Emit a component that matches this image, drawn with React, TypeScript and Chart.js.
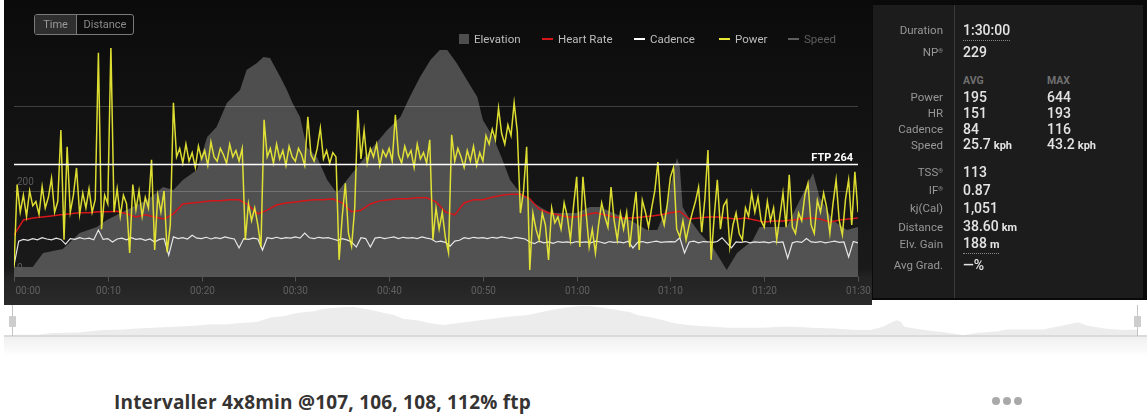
import React, { useEffect, useRef } from "react";
import { Chart, registerables } from "chart.js";
Chart.register(...registerables);

// ---------- data ----------
const tickMinutes = [0, 10, 20, 30, 40, 50, 60, 70, 80, 90];
const tickLabels = ["00:00", "00:10", "00:20", "00:30", "00:40", "00:50", "01:00", "01:10", "01:20", "01:30"];

const POWER_STEP_MIN = 1 / 3; // 20 s samples
const power = [
  20, 215, 150, 190, 140, 200, 165, 175, 145, 210, 160, 185, 230, 150, 175,
  343, 85, 304, 150, 190, 254, 145, 195, 160, 205, 150, 180, 525, 110, 190,
  170, 540, 150, 205, 140, 190, 170, 54, 215, 155, 200, 140, 185, 160, 273,
  61, 190, 150, 200, 56, 120, 407, 280, 300, 265, 310, 270, 290, 255, 305,
  275, 295, 260, 315, 280, 270, 300, 285, 265, 310, 280, 295, 270, 300, 85,
  170, 130, 160, 120, 68, 367, 280, 300, 265, 310, 275, 295, 260, 305, 280,
  270, 300, 285, 260, 374, 285, 270, 300, 348, 275, 295, 265, 290, 280, 38,
  140, 218, 100, 70, 160, 390, 275, 343, 265, 300, 280, 310, 260, 295, 280,
  300, 270, 379, 285, 265, 305, 280, 295, 255, 310, 275, 290, 265, 320, 85,
  160, 110, 150, 90, 55, 332, 270, 300, 280, 255, 295, 270, 305, 260, 290,
  270, 330, 310, 345, 320, 395, 335, 310, 355, 330, 407, 340, 148, 200, 304,
  14, 148, 110, 85, 148, 120, 38, 160, 125, 139, 110, 172, 140, 85, 165,
  233, 68, 233, 150, 68, 110, 54, 120, 172, 140, 115, 209, 130, 85, 148,
  110, 150, 68, 140, 198, 61, 178, 150, 115, 160, 200, 268, 148, 120, 170,
  233, 256, 110, 92, 130, 85, 120, 149, 175, 209, 103, 180, 296, 38, 140,
  226, 110, 165, 178, 68, 120, 148, 100, 85, 160, 140, 195, 150, 185, 130,
  115, 175, 130, 160, 85, 140, 195, 115, 238, 115, 100, 148, 130, 190, 218,
  120, 100, 178, 150, 195, 160, 100, 170, 226, 130, 97, 180, 226, 120, 245, 150,
];

const CADENCE_STEP_MIN = 0.5;
const cadence = [
  25, 82, 86, 84, 88, 85, 90, 87, 85, 89,
  86, 75, 88, 86, 90, 87, 89, 85, 108, 86,
  88, 80, 87, 89, 85, 90, 86, 88, 84, 87,
  80, 86, 88, 49, 92, 88, 90, 87, 96, 89,
  88, 91, 87, 90, 88, 92, 89, 87, 66, 88,
  86, 89, 87, 61, 90, 88, 91, 88, 90, 89,
  92, 89, 101, 90, 88, 91, 89, 90, 87, 84,
  88, 85, 80, 68, 90, 88, 68, 89, 91, 88,
  90, 92, 88, 91, 89, 90, 88, 92, 89, 87,
  80, 82, 79, 70, 82, 84, 90, 88, 91, 89,
  90, 88, 91, 89, 92, 90, 88, 91, 89, 87,
  80, 76, 82, 78, 80, 77, 81, 79, 80, 78,
  81, 79, 80, 78, 82, 80, 77, 81, 79, 80,
  78, 82, 66, 79, 81, 78, 80, 82, 79, 80,
  81, 80, 90, 54, 80, 82, 78, 81, 80, 79,
  81, 90, 78, 66, 80, 79, 81, 78, 80, 79,
  80, 78, 81, 79, 80, 42, 78, 81, 79, 88,
  80, 79, 81, 78, 80, 82, 79, 80, 45, 81, 78,
];

const HR_STEP_MIN = 1;
const heartRate = [
  109, 138, 142, 144, 146, 148, 150, 152, 152, 154,
  154, 155, 150, 144, 148, 144, 140, 150, 169, 171,
  173, 175, 175, 177, 177, 167, 150, 157, 167, 171,
  173, 175, 177, 177, 179, 171, 154, 157, 169, 175,
  177, 179, 179, 181, 181, 173, 154, 148, 171, 177,
  177, 182, 186, 188, 188, 179, 159, 152, 148, 144,
  144, 148, 152, 148, 144, 142, 142, 144, 146, 148,
  152, 155, 140, 142, 144, 144, 142, 140, 142, 138,
  134, 136, 136, 138, 140, 142, 140, 134, 138, 140, 142,
];

const elevationMinutes = [
  0, 2.0, 3.1, 5.2, 7.0, 8.85, 9.9, 12.0, 14.2, 15.9, 17.0, 18.0, 19.5, 20.6, 21.6, 22.7,
  24.1, 24.8, 25.9, 26.6, 27.3, 28.4, 29.1, 29.7, 30.5, 31.2, 32.3, 33.4, 34.4, 35.5, 36.6,
  38.0, 39.8, 41.2, 42.2, 43.3, 44.4, 45.4, 46.2, 47.2, 48.3, 49.4, 50.0, 51.1, 52.1, 52.9,
  54.0, 55.0, 56.1, 57.2, 60.0, 61.4, 62.5, 63.9, 65.7, 67.5, 68.6, 69.6, 70.3, 70.7, 71.0,
  71.3, 72.1, 73.1, 74.5, 76.0, 77.1, 78.8, 79.5, 82.4, 83.8, 85.2, 85.9, 87.3, 88.8, 90.0,
];
const elevation = [
  9, 9, 23, 27, 43, 49, 56, 66, 76, 89, 86, 96, 106, 139, 149, 173,
  186, 206, 213, 219, 218, 199, 186, 173, 159, 129, 119, 96, 83, 96, 109,
  126, 146, 159, 179, 199, 216, 226, 226, 213, 196, 179, 156, 139, 116, 96,
  83, 76, 69, 63, 63, 69, 69, 63, 56, 46, 46, 69, 103, 118, 109,
  69, 56, 43, 29, 6, 23, 36, 49, 49, 76, 103, 79, 56, 46, 49,
];

const FTP = 264;
const powerGridValues = [200, 400];
const powerAxisLabels = [0, 200];

const legendNames = ["Elevation", "Heart Rate", "Cadence", "Power", "Speed"];
const legendColors = ["#4e4e4e", "#d4161a", "#ffffff", "#e8e834", "#5e5e5e"];

const summaryLabels = ["Duration", "NP"];
const summaryValues = ["1:30:00", "229"];
const metricLabels = ["Power", "HR", "Cadence", "Speed"];
const metricAvg = ["195", "151", "84", "25.7"];
const metricMax = ["644", "193", "116", "43.2"];
const metricUnits = ["", "", "", "kph"];
const extraLabels = ["TSS", "IF", "kj(Cal)", "Distance", "Elv. Gain", "Avg Grad."];
const extraValues = ["113", "0.87", "1,051", "38.60", "188", "\u2014%"];
const extraUnits = ["", "", "", "km", "m", ""];

const titleText = "Intervaller 4x8min @107, 106, 108, 112% ftp";

// ---------- layout ----------
const FONT = "Roboto, 'Open Sans', sans-serif";
const legendMarkX = [459, 542, 634, 719, 788];
const legendTextX = [474, 558, 650, 735, 804];
const summaryY = [30, 52];
const headerY = 81;
const metricY = [97, 113, 129, 145];
const extraY = [172, 190, 208, 227, 244, 265];
const supMarks = { NP: true, TSS: true, IF: true } as Record<string, boolean>;

const overlayPlugin = {
  id: "overlay",
  afterDatasetDraw(chart: any, args: any) {
    if (args.index !== 0) return;
    const { ctx, chartArea, scales } = chart;
    const y = scales.yP;
    ctx.save();
    ctx.strokeStyle = "rgba(255,255,255,0.2)";
    ctx.lineWidth = 1;
    powerGridValues.forEach((v) => {
      const py = Math.round(y.getPixelForValue(v)) + 0.5;
      ctx.beginPath();
      ctx.moveTo(chartArea.left, py);
      ctx.lineTo(chartArea.right, py);
      ctx.stroke();
    });
    ctx.fillStyle = "#5c5c5c";
    ctx.font = "10px " + FONT;
    ctx.textBaseline = "middle";
    ctx.textAlign = "left";
    powerAxisLabels.forEach((v) => {
      ctx.fillText(String(v), chartArea.left + 3, y.getPixelForValue(v) - 8);
    });
    ctx.restore();
  },
  afterDatasetsDraw(chart: any) {
    const { ctx, chartArea, scales } = chart;
    const y = scales.yP;
    const x = scales.x;
    ctx.save();
    // FTP line
    const fy = Math.round(y.getPixelForValue(FTP)) + 0.5;
    ctx.strokeStyle = "#ffffff";
    ctx.lineWidth = 1.5;
    ctx.beginPath();
    ctx.moveTo(chartArea.left, fy);
    ctx.lineTo(chartArea.right, fy);
    ctx.stroke();
    ctx.fillStyle = "#ffffff";
    ctx.font = "bold 11px " + FONT;
    ctx.textAlign = "right";
    ctx.textBaseline = "alphabetic";
    ctx.fillText("FTP " + FTP, chartArea.right - 5, fy - 3.5);
    // x axis
    const ay = chartArea.bottom + 0.5;
    ctx.strokeStyle = "#555555";
    ctx.lineWidth = 1;
    ctx.beginPath();
    ctx.moveTo(chartArea.left, ay);
    ctx.lineTo(chartArea.right, ay);
    ctx.stroke();
    ctx.font = "10px " + FONT;
    ctx.fillStyle = "#616161";
    ctx.textBaseline = "middle";
    tickMinutes.forEach((m, i) => {
      const px = Math.round(x.getPixelForValue(m)) + 0.5;
      ctx.beginPath();
      ctx.moveTo(px, ay);
      ctx.lineTo(px, ay + 5);
      ctx.stroke();
      ctx.textAlign = i === 0 ? "left" : "center";
      ctx.fillText(tickLabels[i], i === 0 ? px + 1 : px, chartArea.bottom + 15);
    });
    ctx.restore();
  },
};

export default function App() {
  const mainRef = useRef<HTMLCanvasElement>(null);
  const ovRef = useRef<HTMLCanvasElement>(null);

  useEffect(() => {
    document.body.style.margin = "0";
    const elevPts = elevation.map((v, i) => ({ x: elevationMinutes[i], y: v }));
    const powerPts = power.map((v, i) => ({ x: i * POWER_STEP_MIN, y: v }));
    const cadPts = cadence.map((v, i) => ({ x: i * CADENCE_STEP_MIN, y: v }));
    const hrPts = heartRate.map((v, i) => ({ x: i * HR_STEP_MIN, y: v }));

    const main = new Chart(mainRef.current as HTMLCanvasElement, {
      type: "line",
      data: {
        datasets: [
          {
            label: "Elevation",
            data: elevPts,
            yAxisID: "yE",
            borderColor: "transparent",
            borderWidth: 0,
            backgroundColor: "rgba(120,120,120,0.6)",
            fill: "start",
            pointRadius: 0,
            order: 4,
          },
          {
            label: "Heart Rate",
            data: hrPts,
            yAxisID: "yH",
            borderColor: "#d4161a",
            borderWidth: 1.5,
            pointRadius: 0,
            fill: false,
            order: 3,
          },
          {
            label: "Cadence",
            data: cadPts,
            yAxisID: "yP",
            borderColor: "#e6e6e6",
            borderWidth: 1.2,
            pointRadius: 0,
            fill: false,
            order: 2,
          },
          {
            label: "Power",
            data: powerPts,
            yAxisID: "yP",
            borderColor: "rgba(238,238,52,0.92)",
            borderWidth: 1.5,
            pointRadius: 0,
            fill: false,
            order: 1,
          },
        ] as any,
      },
      options: {
        responsive: false,
        animation: false,
        events: [],
        layout: { padding: { left: 10, right: 14, top: 48, bottom: 27 } },
        plugins: { legend: { display: false }, tooltip: { enabled: false } },
        scales: {
          x: { type: "linear", min: 0, max: 90, display: false },
          yP: { type: "linear", min: 0, max: 536, display: false },
          yE: { type: "linear", min: 0, max: 228, display: false },
          yH: { type: "linear", min: 30, max: 470, display: false },
        },
      } as any,
      plugins: [overlayPlugin as any],
    });

    const ov = new Chart(ovRef.current as HTMLCanvasElement, {
      type: "line",
      data: {
        datasets: [
          {
            label: "Elevation",
            data: elevPts,
            borderColor: "transparent",
            borderWidth: 0,
            backgroundColor: "#ececec",
            fill: "start",
            pointRadius: 0,
          },
        ] as any,
      },
      options: {
        responsive: false,
        animation: false,
        events: [],
        layout: { padding: 0 },
        plugins: { legend: { display: false }, tooltip: { enabled: false } },
        scales: {
          x: { type: "linear", min: 0, max: 90, display: false },
          y: { type: "linear", min: 0, max: 271, display: false },
        },
      } as any,
    });

    return () => {
      main.destroy();
      ov.destroy();
    };
  }, []);

  const labelStyle = (y: number): React.CSSProperties => ({
    position: "absolute",
    left: 843,
    width: 100,
    top: y,
    transform: "translateY(-50%)",
    textAlign: "right",
    color: "#979797",
    fontSize: 11.5,
    lineHeight: "14px",
    whiteSpace: "nowrap",
  });
  const valueStyle = (x: number, y: number): React.CSSProperties => ({
    position: "absolute",
    left: x,
    top: y,
    transform: "translateY(-50%)",
    color: "#e4e4e4",
    fontSize: 14,
    fontWeight: 500,
    lineHeight: "16px",
    whiteSpace: "nowrap",
  });
  const unitStyle: React.CSSProperties = { fontSize: 11, fontWeight: 700, marginLeft: 3 };
  const sup = (name: string) =>
    supMarks[name] ? <sup style={{ fontSize: 6, verticalAlign: "top", position: "relative", top: -1 }}>®</sup> : null;

  return (
    <div style={{ position: "relative", width: 1147, height: 420, background: "#ffffff", overflow: "hidden", fontFamily: FONT }}>
      {/* dark band */}
      <div style={{ position: "absolute", left: 4, top: 0, width: 1143, height: 300, background: "#0a0a0a" }} />
      <div
        style={{
          position: "absolute",
          left: 4,
          top: 0,
          width: 868,
          height: 305,
          background: "linear-gradient(180deg, #0b0b0b 0%, #121212 40%, #1a1a1a 88%, #232323 91%, #2a2a2a 100%)",
        }}
      >
        <canvas ref={mainRef} width={868} height={303} style={{ display: "block" }} />
      </div>

      {/* Time / Distance toggle */}
      <div
        style={{
          position: "absolute",
          left: 34,
          top: 14,
          width: 98,
          height: 19,
          border: "1px solid #7a7a7a",
          borderRadius: 3,
          display: "flex",
          fontSize: 11,
          lineHeight: "19px",
          overflow: "hidden",
        }}
      >
        <div style={{ width: 41, textAlign: "center", background: "#2e2e2e", color: "#9a9a9a", borderRight: "1px solid #7a7a7a" }}>Time</div>
        <div style={{ flex: 1, textAlign: "center", color: "#8a8a8a" }}>Distance</div>
      </div>

      {/* legend */}
      {legendNames.map((name, i) => (
        <React.Fragment key={name}>
          <div
            style={{
              position: "absolute",
              left: legendMarkX[i],
              top: i === 0 ? 34 : 38,
              width: i === 0 ? 10 : 11,
              height: i === 0 ? 10 : 2,
              background: legendColors[i],
            }}
          />
          <div
            style={{
              position: "absolute",
              left: legendTextX[i],
              top: 39,
              transform: "translateY(-50%)",
              fontSize: 11.5,
              lineHeight: "14px",
              color: i === 4 ? "#5e5e5e" : "#bdbdbd",
              whiteSpace: "nowrap",
            }}
          >
            {name}
          </div>
        </React.Fragment>
      ))}

      {/* stats panel */}
      <div style={{ position: "absolute", left: 873, top: 5, width: 270, height: 293, background: "#1c1c1c" }} />
      <div style={{ position: "absolute", left: 954, top: 5, width: 1, height: 293, background: "#3a3a3a" }} />
      {summaryLabels.map((l, i) => (
        <React.Fragment key={l}>
          <div style={labelStyle(summaryY[i])}>
            {l}
            {sup(l)}
          </div>
          <div style={valueStyle(963, summaryY[i])}>
            <span style={i === 0 ? { borderBottom: "1px dotted #8a8a8a", paddingBottom: 2 } : {}}>{summaryValues[i]}</span>
          </div>
        </React.Fragment>
      ))}
      <div style={{ ...valueStyle(963, headerY), fontSize: 10.5, color: "#707070", fontWeight: 700 }}>AVG</div>
      <div style={{ ...valueStyle(1047, headerY), fontSize: 10.5, color: "#707070", fontWeight: 700 }}>MAX</div>
      {metricLabels.map((l, i) => (
        <React.Fragment key={l}>
          <div style={labelStyle(metricY[i])}>{l}</div>
          <div style={valueStyle(963, metricY[i])}>
            {metricAvg[i]}
            {metricUnits[i] ? <span style={unitStyle}>{metricUnits[i]}</span> : null}
          </div>
          <div style={valueStyle(1047, metricY[i])}>
            {metricMax[i]}
            {metricUnits[i] ? <span style={unitStyle}>{metricUnits[i]}</span> : null}
          </div>
        </React.Fragment>
      ))}
      {extraLabels.map((l, i) => (
        <React.Fragment key={l}>
          <div style={labelStyle(extraY[i])}>
            {l}
            {sup(l)}
          </div>
          <div style={valueStyle(963, extraY[i])}>
            <span style={l === "Elv. Gain" ? { borderBottom: "1px dotted #8a8a8a", paddingBottom: 2 } : {}}>
              {extraValues[i]}
              {extraUnits[i] ? <span style={unitStyle}>{extraUnits[i]}</span> : null}
            </span>
          </div>
        </React.Fragment>
      ))}

      {/* overview strip */}
      <canvas ref={ovRef} width={1125} height={36} style={{ position: "absolute", left: 13, top: 300, display: "block" }} />
      <div style={{ position: "absolute", left: 4, top: 335, width: 1143, height: 2, background: "#d9dbdb" }} />
      <div style={{ position: "absolute", left: 4, top: 337, width: 1143, height: 20, background: "linear-gradient(180deg, #f0f0f0 0%, #ffffff 100%)" }} />
      <div style={{ position: "absolute", left: 12, top: 305, width: 1, height: 31, background: "#c4c4c4" }} />
      <div style={{ position: "absolute", left: 9, top: 316, width: 7, height: 11, background: "#cdcdcd", borderRadius: 1 }} />
      <div style={{ position: "absolute", left: 1137, top: 305, width: 1, height: 31, background: "#c4c4c4" }} />
      <div style={{ position: "absolute", left: 1134, top: 316, width: 7, height: 11, background: "#cdcdcd", borderRadius: 1 }} />

      {/* title */}
      <div
        style={{
          position: "absolute",
          left: 114,
          top: 402,
          transform: "translateY(-50%)",
          fontFamily: "'Open Sans', Roboto, sans-serif",
          fontSize: 19,
          fontWeight: 700,
          letterSpacing: 0.2,
          color: "#363333",
          whiteSpace: "nowrap",
          lineHeight: "24px",
        }}
      >
        {titleText}
      </div>
      {[0, 1, 2].map((d) => (
        <div
          key={d}
          style={{ position: "absolute", left: 992 + d * 11, top: 397, width: 8, height: 8, borderRadius: 4, background: "#a9a9a9" }}
        />
      ))}
    </div>
  );
}
